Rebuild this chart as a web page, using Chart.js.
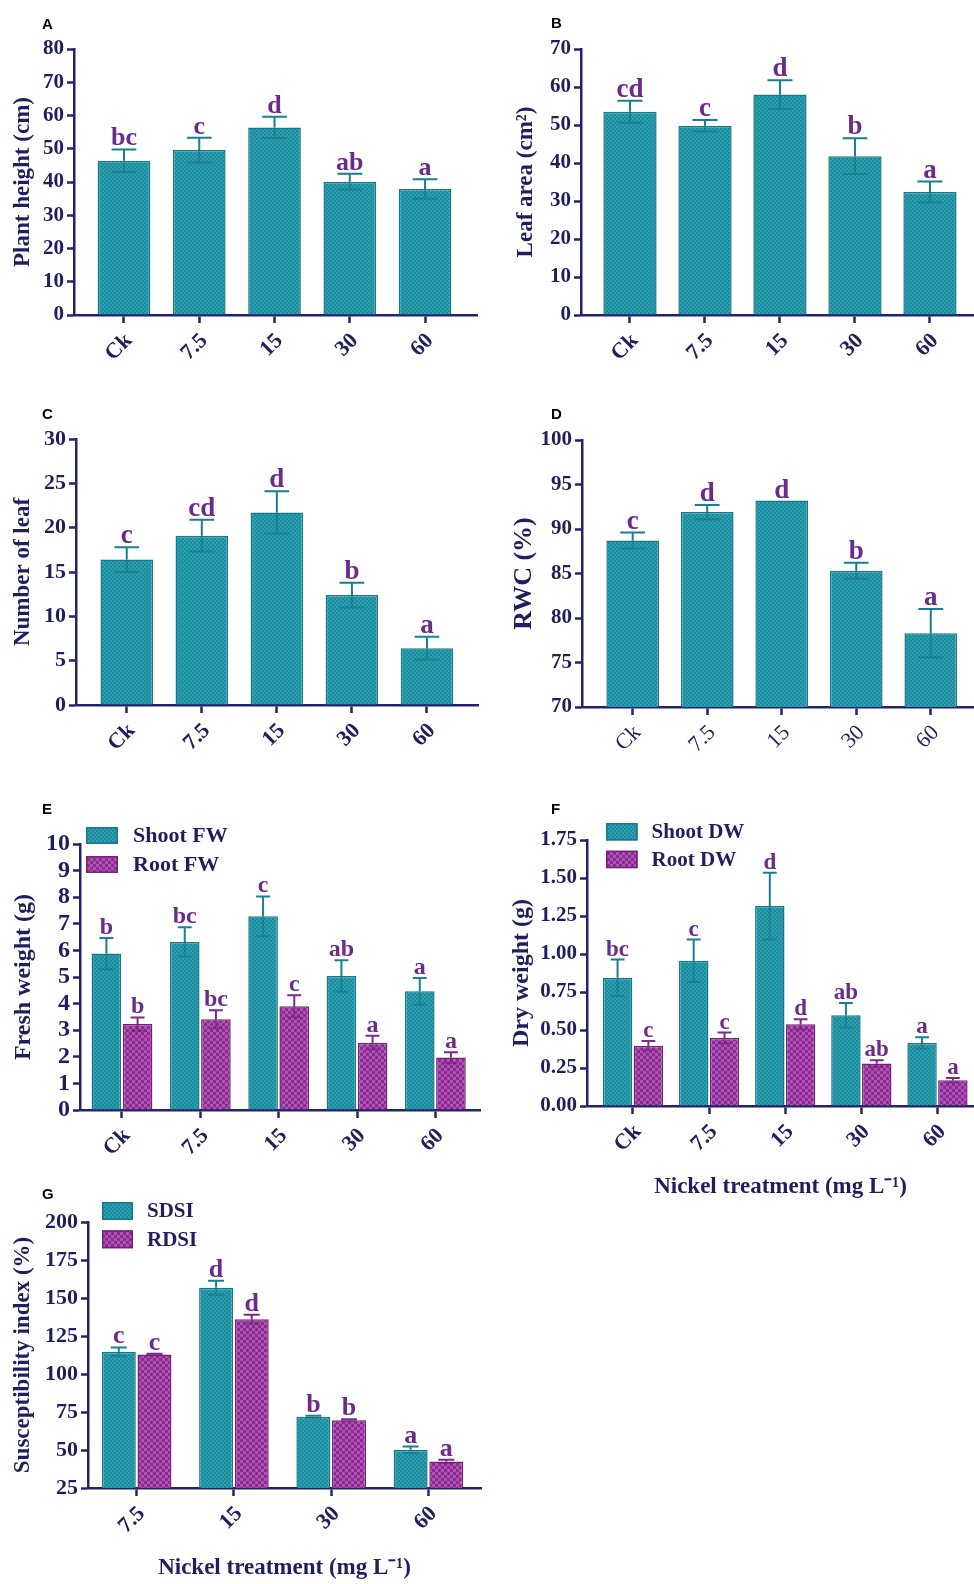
<!DOCTYPE html>
<html>
<head>
<meta charset="utf-8">
<script src="https://cdn.jsdelivr.net/npm/chart.js@4.4.1/dist/chart.umd.min.js"></script>
<style>
  html, body { margin: 0; padding: 0; background: #ffffff; }
  body { width: 974px; height: 1584px; position: relative; overflow: hidden; }
  canvas { position: absolute; }
  .tag { position: absolute; font: bold 15px "Liberation Sans", Arial, sans-serif; line-height: 15px; color: #000; }
</style>
</head>
<body>
<script>
// ---- treatments ----
const doses5 = ['Ck', '7.5', '15', '30', '60'];
const doses4 = ['7.5', '15', '30', '60'];

// ---- A: plant height ----
const plantHeight = [46.4, 49.6, 56.4, 40.1, 37.9];
const plantHeightSE = [3.4, 3.7, 3.2, 2.4, 2.9];
const plantHeightLetters = ['bc', 'c', 'd', 'ab', 'a'];
const plantHeightAxis = [0, 80, 10];

// ---- B: leaf area ----
const leafArea = [53.5, 49.8, 58.0, 41.8, 32.4];
const leafAreaSE = [2.9, 1.5, 3.8, 4.7, 2.7];
const leafAreaLetters = ['cd', 'c', 'd', 'b', 'a'];
const leafAreaAxis = [0, 70, 10];

// ---- C: number of leaves ----
const leafNumber = [16.4, 19.1, 21.7, 12.4, 6.4];
const leafNumberSE = [1.4, 1.8, 2.4, 1.4, 1.3];
const leafNumberLetters = ['c', 'cd', 'd', 'b', 'a'];
const leafNumberAxis = [0, 30, 5];

// ---- D: relative water content ----
const rwc = [88.7, 91.9, 93.2, 85.3, 78.3];
const rwcSE = [0.9, 0.8, 0, 0.9, 2.7];
const rwcLetters = ['c', 'd', 'd', 'b', 'a'];
const rwcAxis = [70, 100, 5];

// ---- E: fresh weight ----
const shootFW = [5.88, 6.32, 7.28, 5.04, 4.46];
const shootFWSE = [0.59, 0.55, 0.75, 0.59, 0.50];
const shootFWLetters = ['b', 'bc', 'c', 'ab', 'a'];
const rootFW = [3.23, 3.41, 3.90, 2.53, 1.97];
const rootFWSE = [0.25, 0.34, 0.41, 0.26, 0.20];
const rootFWLetters = ['b', 'bc', 'c', 'a', 'a'];
const freshAxis = [0, 10, 1];

// ---- F: dry weight ----
const shootDW = [0.843, 0.955, 1.315, 0.597, 0.415];
const shootDWSE = [0.12, 0.14, 0.22, 0.08, 0.037];
const shootDWLetters = ['bc', 'c', 'd', 'ab', 'a'];
const rootDW = [0.397, 0.448, 0.538, 0.279, 0.169];
const rootDWSE = [0.03, 0.035, 0.033, 0.022, 0.015];
const rootDWLetters = ['c', 'c', 'd', 'ab', 'a'];
const dryAxis = [0, 1.75, 0.25];

// ---- G: susceptibility index ----
const sdsi = [114.7, 156.7, 71.8, 50.2];
const sdsiSE = [2.8, 4.6, 0.7, 2.1];
const sdsiLetters = ['c', 'd', 'b', 'a'];
const rdsi = [112.9, 136.1, 69.6, 42.5];
const rdsiSE = [0.4, 2.9, 0.7, 1.1];
const rdsiLetters = ['c', 'd', 'b', 'a'];
const indexAxis = [25, 200, 25];

// ---- styling ----
const AXIS = '#23236b';
const TEXT = '#1f1f5f';
const LETTER = '#6c2a8c';
const SERIF = '"Liberation Serif", "Times New Roman", serif';
const NICKEL = 'Nickel treatment (mg L\u207B\u00B9)';

function checker(base, alt, cell) {
  const t = document.createElement('canvas');
  t.width = t.height = cell * 2;
  const g = t.getContext('2d');
  g.fillStyle = base; g.fillRect(0, 0, cell * 2, cell * 2);
  g.fillStyle = alt; g.fillRect(0, 0, cell, cell); g.fillRect(cell, cell, cell, cell);
  return g.createPattern(t, 'repeat');
}
const TEAL = { fill: checker('#1b8b9c', '#2c9fb0', 2), edge: '#17798b', err: '#17808f', inner: 'rgba(20,105,120,0.45)' };
const PURPLE = { fill: checker('#8c2c91', '#ad52b2', 3), edge: '#74227c', err: '#7a2a88', inner: 'rgba(100,20,110,0.45)' };

// error bars (upper whisker solid, lower whisker faint inside the bar) and significance letters
const errorLetters = {
  id: 'errorLetters',
  afterDatasetsDraw(chart, args, opts) {
    const ctx = chart.ctx;
    const ys = chart.scales.y;
    chart.data.datasets.forEach((ds, di) => {
      const meta = chart.getDatasetMeta(di);
      meta.data.forEach((bar, i) => {
        const v = ds.data[i].y;
        const e = ds.errors[i];
        const top = ys.getPixelForValue(v + e);
        const low = ys.getPixelForValue(v - e);
        const half = bar.width * 0.235;
        ctx.save();
        ctx.lineWidth = 2;
        if (e > 0) {
          ctx.strokeStyle = ds.errInner;
          ctx.beginPath();
          ctx.moveTo(bar.x, bar.y); ctx.lineTo(bar.x, low);
          ctx.moveTo(bar.x - half, low); ctx.lineTo(bar.x + half, low);
          ctx.stroke();
          ctx.strokeStyle = ds.errColor;
          ctx.beginPath();
          ctx.moveTo(bar.x, bar.y); ctx.lineTo(bar.x, top);
          ctx.moveTo(bar.x - half, top); ctx.lineTo(bar.x + half, top);
          ctx.stroke();
        }
        ctx.fillStyle = LETTER;
        ctx.font = 'bold ' + opts.size + 'px ' + SERIF;
        ctx.textAlign = 'center';
        ctx.textBaseline = 'alphabetic';
        ctx.fillText(ds.letters[i], bar.x, top - (e > 0 ? 4 : 3));
        ctx.restore();
      });
    });
  }
};

// boxed legend sitting above the plot's top-left corner
const boxLegend = {
  id: 'boxLegend',
  afterDraw(chart, args, opts) {
    if (!opts.show) return;
    const ctx = chart.ctx;
    const a = chart.chartArea;
    chart.data.datasets.forEach((ds, i) => {
      const x = a.left + opts.dx;
      const y = a.top + opts.dy + i * opts.step;
      ctx.save();
      ctx.fillStyle = ds.backgroundColor;
      ctx.fillRect(x, y, opts.w, opts.h);
      ctx.strokeStyle = ds.borderColor;
      ctx.lineWidth = 1.5;
      ctx.strokeRect(x + 0.75, y + 0.75, opts.w - 1.5, opts.h - 1.5);
      ctx.fillStyle = TEXT;
      ctx.font = 'bold ' + opts.size + 'px ' + SERIF;
      ctx.textAlign = 'left';
      ctx.textBaseline = 'middle';
      ctx.fillText(ds.label, x + opts.w + opts.gap, y + opts.h / 2 + 1);
      ctx.restore();
    });
  }
};

function series(label, values, errors, letters, look) {
  return { label, values, errors, letters, look };
}

function panel(p) {
  const cv = document.createElement('canvas');
  const width = (p.R >= 974 ? 974 : p.R + 10) - p.cx;
  const height = p.B + p.Hx - p.cy;
  cv.width = width; cv.height = height;
  cv.style.left = p.cx + 'px'; cv.style.top = p.cy + 'px';
  cv.style.width = width + 'px'; cv.style.height = height + 'px';
  document.body.appendChild(cv);

  const tag = document.createElement('div');
  tag.className = 'tag';
  tag.textContent = p.tag;
  tag.style.left = p.tagX + 'px'; tag.style.top = p.tagY + 'px';
  document.body.appendChild(tag);

  const datasets = p.series.map(s => ({
    label: s.label,
    data: s.values.map((v, i) => ({ x: i, y: v })),
    errors: s.errors,
    letters: s.letters,
    backgroundColor: s.look.fill,
    borderColor: s.look.edge,
    borderWidth: 1.5,
    errColor: s.look.err,
    errInner: s.look.inner,
    barPercentage: p.barPct,
    categoryPercentage: p.catPct
  }));

  new Chart(cv, {
    type: 'bar',
    data: { datasets },
    plugins: [errorLetters, boxLegend],
    options: {
      responsive: false,
      animation: false,
      devicePixelRatio: 1,
      layout: { padding: { left: 0, top: p.T - p.cy, right: width - (p.R - p.cx), bottom: 0 } },
      plugins: {
        legend: { display: false },
        tooltip: { enabled: false },
        errorLetters: { size: p.letterSize },
        boxLegend: p.legend || { show: false }
      },
      scales: {
        x: {
          type: 'linear',
          min: p.xmin, max: p.xmax,
          offset: false,
          afterBuildTicks: s => { s.ticks = p.labels.map((_, i) => ({ value: i })); },
          afterFit: s => { s.height = p.Hx; },
          ticks: {
            autoSkip: false, maxRotation: 45, minRotation: 45, padding: 5, labelOffset: 5,
            color: TEXT,
            font: { family: SERIF, size: p.xFont, weight: p.xWeight },
            callback: v => p.labels[v]
          },
          grid: { display: true, offset: false, drawOnChartArea: false, drawTicks: true, tickLength: 8, tickColor: AXIS, tickWidth: 2.5 },
          border: { display: true, color: AXIS, width: 2.5 },
          title: p.xTitle ? {
            display: true, text: p.xTitle, color: TEXT,
            font: { family: SERIF, size: 23, weight: 'bold', lineHeight: 1.2 },
            padding: { top: 0, bottom: p.xTitlePad }
          } : { display: false }
        },
        y: {
          type: 'linear',
          min: p.axis[0], max: p.axis[1],
          beginAtZero: false,
          afterFit: s => { s.width = p.L - p.cx; },
          ticks: {
            stepSize: p.axis[2], autoSkip: false, padding: 3, color: TEXT,
            font: { family: SERIF, size: p.yFont, weight: 'bold' },
            callback: p.yFormat || (v => v)
          },
          grid: { display: true, drawOnChartArea: false, drawTicks: true, tickLength: 7, tickColor: AXIS, tickWidth: 2.5 },
          border: { display: true, color: AXIS, width: 2.5 },
          title: {
            display: true, text: p.yTitle, color: TEXT,
            font: { family: SERIF, size: p.yTitleSize, weight: 'bold', lineHeight: 1.2 },
            padding: { top: p.yTitlePad, bottom: 0 }
          }
        }
      }
    }
  });
}

panel({
  tag: 'A', tagX: 42, tagY: 16,
  cx: 0, cy: 0, L: 74, T: 49, R: 477, B: 315, Hx: 60,
  xmin: -0.664, xmax: 4.69, labels: doses5, barPct: 0.70, catPct: 1,
  axis: plantHeightAxis, yTitle: 'Plant height (cm)', yTitleSize: 23, yTitlePad: 9.2,
  yFont: 21, xFont: 22, xWeight: 'bold', letterSize: 26,
  series: [series('Plant height', plantHeight, plantHeightSE, plantHeightLetters, TEAL)]
});

panel({
  tag: 'B', tagX: 551, tagY: 15,
  cx: 490, cy: 0, L: 581, T: 49, R: 974, B: 315, Hx: 60,
  xmin: -0.653, xmax: 4.587, labels: doses5, barPct: 0.71, catPct: 1,
  axis: leafAreaAxis, yTitle: 'Leaf area (cm\u00B2)', yTitleSize: 23, yTitlePad: 22.2,
  yFont: 21, xFont: 22, xWeight: 'bold', letterSize: 27,
  series: [series('Leaf area', leafArea, leafAreaSE, leafAreaLetters, TEAL)]
});

panel({
  tag: 'C', tagX: 42, tagY: 406,
  cx: 0, cy: 390, L: 76, T: 439, R: 478, B: 705, Hx: 60,
  xmin: -0.676, xmax: 4.68, labels: doses5, barPct: 0.70, catPct: 1,
  axis: leafNumberAxis, yTitle: 'Number of leaf', yTitleSize: 23, yTitlePad: 9.2,
  yFont: 22, xFont: 22, xWeight: 'bold', letterSize: 27,
  series: [series('Number of leaf', leafNumber, leafNumberSE, leafNumberLetters, TEAL)]
});

panel({
  tag: 'D', tagX: 551, tagY: 406,
  cx: 490, cy: 390, L: 582, T: 440, R: 974, B: 707, Hx: 60,
  xmin: -0.68, xmax: 4.58, labels: doses5, barPct: 0.707, catPct: 1,
  axis: rwcAxis, yTitle: 'RWC (%)', yTitleSize: 26, yTitlePad: 18.4,
  yFont: 21, xFont: 22, xWeight: 'normal', letterSize: 27,
  series: [series('RWC', rwc, rwcSE, rwcLetters, TEAL)]
});

panel({
  tag: 'E', tagX: 42, tagY: 801,
  cx: 0, cy: 780, L: 80, T: 844, R: 480, B: 1110, Hx: 60,
  xmin: -0.536, xmax: 4.57, labels: doses5, barPct: 0.95, catPct: 0.796,
  axis: freshAxis, yTitle: 'Fresh weight (g)', yTitleSize: 24, yTitlePad: 9.6,
  yFont: 24, xFont: 22, xWeight: 'bold', letterSize: 24,
  legend: { show: true, dx: 6, dy: -17, step: 29, w: 32, h: 17, gap: 15, size: 22 },
  series: [
    series('Shoot FW', shootFW, shootFWSE, shootFWLetters, TEAL),
    series('Root FW', rootFW, rootFWSE, rootFWLetters, PURPLE)
  ]
});

panel({
  tag: 'F', tagX: 551, tagY: 801,
  cx: 490, cy: 780, L: 587, T: 840, R: 974, B: 1106, Hx: 100,
  xmin: -0.604, xmax: 4.48, labels: doses5, barPct: 0.955, catPct: 0.81,
  axis: dryAxis, yTitle: 'Dry weight (g)', yTitleSize: 24, yTitlePad: 17.6,
  yFont: 21, xFont: 22, xWeight: 'bold', letterSize: 23,
  yFormat: v => v.toFixed(2),
  xTitle: NICKEL, xTitlePad: 5.5,
  legend: { show: true, dx: 19, dy: -17, step: 27.7, w: 31.6, h: 17.5, gap: 14, size: 21 },
  series: [
    series('Shoot DW', shootDW, shootDWSE, shootDWLetters, TEAL),
    series('Root DW', rootDW, rootDWSE, rootDWLetters, PURPLE)
  ]
});

panel({
  tag: 'G', tagX: 42, tagY: 1186,
  cx: 0, cy: 1160, L: 88, T: 1222, R: 481, B: 1488, Hx: 95,
  xmin: -0.50, xmax: 3.54, labels: doses4, barPct: 0.953, catPct: 0.733,
  axis: indexAxis, yTitle: 'Susceptibility index (%)', yTitleSize: 23, yTitlePad: 9.2,
  yFont: 22, xFont: 22, xWeight: 'bold', letterSize: 26,
  xTitle: NICKEL, xTitlePad: 1.2,
  legend: { show: true, dx: 14, dy: -20, step: 28.3, w: 31, h: 18, gap: 14, size: 21 },
  series: [
    series('SDSI', sdsi, sdsiSE, sdsiLetters, TEAL),
    series('RDSI', rdsi, rdsiSE, rdsiLetters, PURPLE)
  ]
});
</script>
</body>
</html>
